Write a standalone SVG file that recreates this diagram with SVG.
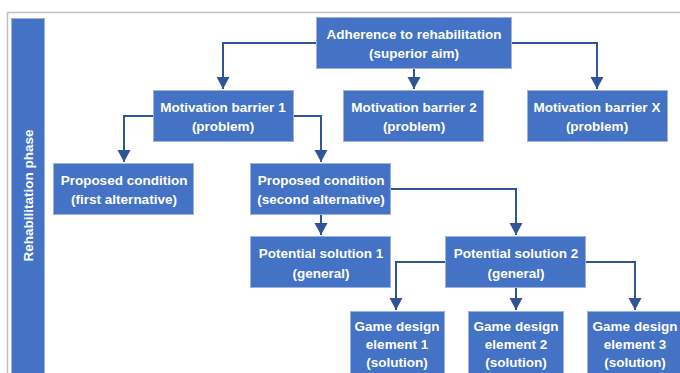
<svg xmlns="http://www.w3.org/2000/svg" width="680" height="373" viewBox="0 0 680 373">
<defs>
<marker id="ah" markerUnits="userSpaceOnUse" markerWidth="14" markerHeight="14" refX="12" refY="6.5" orient="auto">
<path d="M0,0 L12,6.5 L0,13 Z" fill="#2F5597"/>
</marker>
<style>
.box{fill:#4472C4;stroke:#9DB3DD;stroke-width:1}
.t{font-family:"Liberation Sans",Arial,sans-serif;font-weight:bold;font-size:13.5px;fill:#fff;text-anchor:middle}
.c{fill:none;stroke:#2F5597;stroke-width:2;marker-end:url(#ah)}
</style>
</defs>
<rect width="680" height="373" fill="#fff"/>
<path d="M7.5,373 V12.5 H680" fill="none" stroke="#BFBFBF" stroke-width="1.5"/>
<g id="phase">
<rect class="box" x="11.5" y="18.5" width="33" height="360"/>
<text class="t" transform="translate(33,195.5) rotate(-90)">Rehabilitation phase</text>
</g>
<g id="connectors">
<path class="c" d="M316,43 H223 V89"/>
<path class="c" d="M414,69 V89"/>
<path class="c" d="M512,43 H597 V89"/>
<path class="c" d="M153,116 H124 V162"/>
<path class="c" d="M293,116 H321 V162"/>
<path class="c" d="M321,215 V235"/>
<path class="c" d="M391,189 H516 V235"/>
<path class="c" d="M445,262 H396 V310"/>
<path class="c" d="M516,288 V310"/>
<path class="c" d="M586,262 H635 V310"/>
</g>
<g id="top">
<rect class="box" x="316.5" y="17.5" width="195" height="51"/>
<text class="t" x="414" y="39">Adherence to rehabilitation</text>
<text class="t" x="414" y="58">(superior aim)</text>
</g>
<g id="mb1">
<rect class="box" x="153.5" y="90.5" width="140" height="51"/>
<text class="t" x="223" y="112">Motivation barrier 1</text>
<text class="t" x="223" y="131">(problem)</text>
</g>
<g id="mb2">
<rect class="box" x="343.5" y="90.5" width="140" height="51"/>
<text class="t" x="414" y="112">Motivation barrier 2</text>
<text class="t" x="414" y="131">(problem)</text>
</g>
<g id="mbx">
<rect class="box" x="527.5" y="90.5" width="140" height="51"/>
<text class="t" x="597" y="112">Motivation barrier X</text>
<text class="t" x="597" y="131">(problem)</text>
</g>
<g id="pc1">
<rect class="box" x="53.5" y="163.5" width="140" height="51"/>
<text class="t" x="124" y="185">Proposed condition</text>
<text class="t" x="124" y="204">(first alternative)</text>
</g>
<g id="pc2">
<rect class="box" x="250.5" y="163.5" width="140" height="51"/>
<text class="t" x="321" y="185">Proposed condition</text>
<text class="t" x="321" y="204">(second alternative)</text>
</g>
<g id="ps1">
<rect class="box" x="250.5" y="236.5" width="140" height="51"/>
<text class="t" x="321" y="258">Potential solution 1</text>
<text class="t" x="321" y="278">(general)</text>
</g>
<g id="ps2">
<rect class="box" x="445.5" y="236.5" width="140" height="51"/>
<text class="t" x="516" y="258">Potential solution 2</text>
<text class="t" x="516" y="278">(general)</text>
</g>
<g id="gd1">
<rect class="box" x="350.5" y="311.5" width="94" height="70"/>
<text class="t" x="397" y="331">Game design</text>
<text class="t" x="397" y="349">element 1</text>
<text class="t" x="397" y="367">(solution)</text>
</g>
<g id="gd2">
<rect class="box" x="468.5" y="311.5" width="95" height="70"/>
<text class="t" x="516" y="331">Game design</text>
<text class="t" x="516" y="349">element 2</text>
<text class="t" x="516" y="367">(solution)</text>
</g>
<g id="gd3">
<rect class="box" x="587.5" y="311.5" width="96" height="70"/>
<text class="t" x="635" y="331">Game design</text>
<text class="t" x="635" y="349">element 3</text>
<text class="t" x="635" y="367">(solution)</text>
</g>
</svg>
